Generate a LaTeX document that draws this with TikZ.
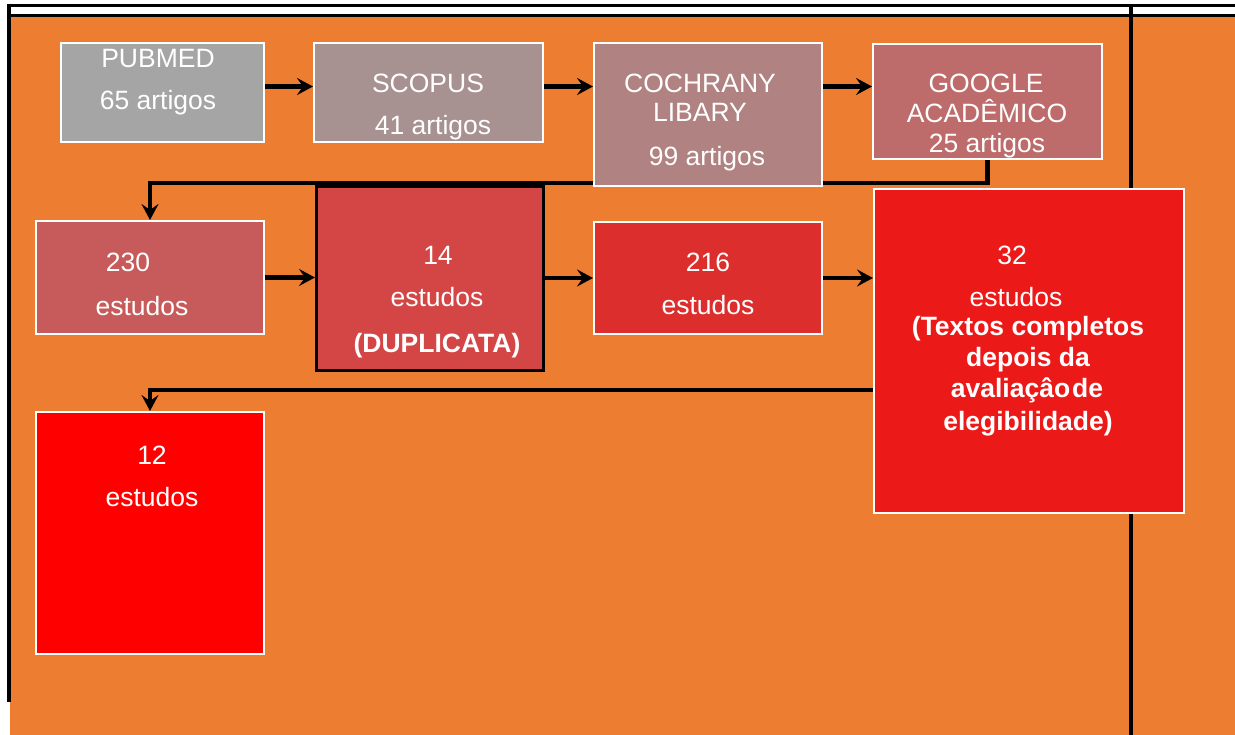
\documentclass[tikz,border=0pt]{standalone}
\usepackage{fontspec}
\setmainfont{Liberation Sans}
\usetikzlibrary{arrows.meta}
\pgfdeclarelayer{back}
\pgfdeclarelayer{mid}
\pgfsetlayers{back,mid,main}
\definecolor{bgorange}{HTML}{ED7D31}
\definecolor{cpub}{HTML}{A5A5A5}
\definecolor{csco}{HTML}{A89191}
\definecolor{ccoc}{HTML}{B18282}
\definecolor{cgoo}{HTML}{BD6B6B}
\definecolor{ctwo}{HTML}{C75B5B}
\definecolor{cfour}{HTML}{D44646}
\definecolor{csix}{HTML}{DD2E2E}
\definecolor{cthree}{HTML}{EC1919}
\definecolor{ctwelve}{HTML}{FF0000}
\begin{document}
\begin{tikzpicture}[x=1pt,y=-1pt,
  box/.style={draw=white, line width=2pt, inner sep=0pt, anchor=north west},
  txt/.style={text=white, inner sep=0pt, anchor=base, font=\fontsize{26.5}{30}\selectfont},
  btxt/.style={txt, font=\fontsize{26.5}{30}\selectfont\bfseries},
  arr/.style={draw=black, line width=4.5pt, -{Stealth[length=16pt,width=17pt,inset=6pt]}},
  frame/.style={draw=black, line width=3.5pt}]
\useasboundingbox (0,0) rectangle (1235,735);
\begin{pgfonlayer}{back}
  \fill[white] (0,0) rectangle (1235,735);
  \fill[bgorange] (11,17) rectangle (1235,735);
  \fill[bgorange] (10,702) rectangle (1235,735);
  \draw[frame] (7,5.5) -- (1235,5.5);
  \draw[frame] (11,15.5) -- (1235,15.5);
  \draw[frame] (9,4) -- (9,702);
  \draw[frame, line width=4pt] (1131,5) -- (1131,735);
\end{pgfonlayer}

% boxes
\node[box, fill=cpub, minimum width=203pt, minimum height=99pt] (pub) at (60,42) {};
\node[box, fill=csco, minimum width=229pt, minimum height=99pt] (sco) at (313,42) {};
\node[box, fill=ccoc, minimum width=228pt, minimum height=143pt] (coc) at (593,42) {};
\node[box, fill=cgoo, minimum width=229pt, minimum height=115pt] (goo) at (872,43) {};
\node[box, fill=ctwo, minimum width=228pt, minimum height=113pt] (b230) at (35,220) {};
\node[box, draw=black, line width=3pt, fill=cfour, minimum width=227pt, minimum height=184pt] (b14) at (315,185) {};
\node[box, fill=csix, minimum width=228pt, minimum height=112pt] (b216) at (593,221) {};
\node[box, fill=cthree, minimum width=310pt, minimum height=324pt] (b32) at (873,188) {};
\node[box, fill=ctwelve, minimum width=228pt, minimum height=242pt] (b12) at (35,411) {};

% connectors
\begin{pgfonlayer}{mid}
  \draw[arr] ([yshift=6pt]pub.east) -- ([yshift=6pt]pub.east -| sco.west);
  \draw[arr] ([yshift=6pt]sco.east) -- ([yshift=6pt]sco.east -| coc.west);
  \draw[arr] ([yshift=6pt]sco.east -| coc.east) -- ([yshift=6pt]sco.east -| goo.west);
  \coordinate (gdown) at ([yshift=-23pt]goo.south);
  \draw[arr] (goo.south) -- (gdown) -| (b230.north);
  \draw[arr] (b230.east) -- (b230.east -| b14.west);
  \draw[arr] (b216.east -| b14.east) -- (b216.west);
  \draw[arr] (b216.east) -- (b216.east -| b32.west);
  \coordinate (tleft) at ([yshift=-39pt]b32.west);
  \draw[arr] (tleft) -| (b12.north);
\end{pgfonlayer}

% texts
\node[txt] (t1) at (158,68) {PUBMED};
\node[txt] (t2) at (158,110) {65 artigos};
\node[txt] (t3) at (428,93) {SCOPUS};
\node[txt] (t4) at (433,135) {41 artigos};
\node[txt] (t5) at (700,93) {COCHRANY};
\node[txt] (t6) at (700,122) {LIBARY};
\node[txt] (t7) at (707,166) {99 artigos};
\node[txt] (t8) at (986,93) {GOOGLE};
\node[txt] (t9) at (987,123) {ACADÊMICO};
\node[txt] (t10) at (987,153) {25 artigos};
\node[txt] (t11) at (128,272) {230};
\node[txt] (t12) at (142,316) {estudos};
\node[txt] (t13) at (438,265) {14};
\node[txt] (t14) at (437,307) {estudos};
\node[btxt] (t15) at (437,353) {(DUPLICATA)};
\node[txt] (t16) at (708,272) {216};
\node[txt] (t17) at (708,315) {estudos};
\node[txt] (t18) at (1012,265) {32};
\node[txt] (t19) at (1016,307) {estudos};
\node[btxt] (t20) at (1028,336) {(Textos completos};
\node[btxt] (t21) at (1028,367) {depois da};
\node[btxt] (t22) at (1027,398) {avaliaçâo\hspace{2pt}de};
\node[btxt] (t23) at (1028,430) {elegibilidade)};
\node[txt] (t24) at (152,464) {12};
\node[txt] (t25) at (152,506) {estudos};
\end{tikzpicture}
\end{document}
